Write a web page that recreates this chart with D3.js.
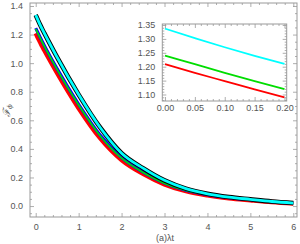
<!DOCTYPE html>
<html>
<head>
<meta charset="utf-8">
<script src="https://cdn.jsdelivr.net/npm/d3@7"></script>
<style>
  body { margin: 0; background: #fff; }
  svg { display: block; }
  .tick text { font-family: "Liberation Sans", Arial, sans-serif; font-size: 9px; fill: #555; }
  .domain { stroke: none; }
  .tick line { stroke: #999; stroke-width: 0.8; }
</style>
</head>
<body>
<div id="wrapper"></div>
<script>
// time values (λt)
const times = [0, 0.05, 0.1, 0.15, 0.2, 0.5, 1, 1.5, 2, 2.5, 3, 3.5, 4, 4.5, 5, 5.5, 6]

// series
const cyanValues  = [1.337, 1.303, 1.270, 1.239, 1.210, 1.04, 0.78, 0.55, 0.37, 0.265, 0.18, 0.122, 0.086, 0.063, 0.047, 0.032, 0.021]
const blueValues  = [1.245, 1.214, 1.183, 1.153, 1.124, 0.96, 0.712, 0.497, 0.34, 0.238, 0.162, 0.111, 0.080, 0.059, 0.044, 0.030, 0.020]
const greenValues = [1.240, 1.209, 1.178, 1.148, 1.119, 0.955, 0.707, 0.492, 0.335, 0.235, 0.159, 0.109, 0.079, 0.058, 0.043, 0.029, 0.019]
const redValues   = [1.209, 1.178, 1.148, 1.118, 1.090, 0.93, 0.685, 0.475, 0.322, 0.225, 0.152, 0.104, 0.075, 0.055, 0.041, 0.028, 0.018]

const mainXTicks = [0, 1, 2, 3, 4, 5, 6]
const mainYTicks = [0, 0.2, 0.4, 0.6, 0.8, 1.0, 1.2, 1.4]
const insetXTicks = [0, 0.05, 0.1, 0.15, 0.2]
const insetYTicks = [1.10, 1.15, 1.20, 1.25, 1.30, 1.35]

const xLabel = "(a)λt"

function drawChart() {
  const width = 300
  const height = 244

  const svg = d3.select("#wrapper")
    .append("svg")
      .attr("width", width)
      .attr("height", height)

  svg.append("rect").attr("width", width).attr("height", height).attr("fill", "#fff")

  // main frame box
  const frame = { left: 30, right: 297, top: 3, bottom: 217 }

  const xScale = d3.scaleLinear().domain([-0.133, 6.086]).range([frame.left, frame.right])
  const yScale = d3.scaleLinear().domain([-0.0766, 1.4209]).range([frame.bottom, frame.top])

  const mainLayers = [
    { values: redValues,   color: "#ff0000", width: 4.5 },
    { values: blueValues,  color: "#0000ff", width: 3.2 },
    { values: greenValues, color: "#00dd00", width: 1.8 },
    { values: cyanValues,  color: "#000000", width: 4.6 },
    { values: cyanValues,  color: "#00ffff", width: 2.8 },
  ]

  const drawFramedPlot = (g, xs, ys, opts) => {
    const [x0, x1] = xs.range()
    const [y0, y1] = ys.range()

    const lineGen = d3.line()
      .x((d, i) => xs(times[i]))
      .y(d => ys(d))
      .curve(d3.curveMonotoneX)
      .defined((d, i) => times[i] <= opts.xMax)

    const clipId = "clip" + Math.round(x0)
    g.append("clipPath").attr("id", clipId)
      .append("rect").attr("x", x0).attr("y", y1).attr("width", x1 - x0).attr("height", y0 - y1)

    const lines = g.append("g").attr("clip-path", `url(#${clipId})`)
    opts.layers.forEach(l => {
      lines.append("path")
        .datum(l.values)
        .attr("d", lineGen)
        .attr("fill", "none")
        .attr("stroke", l.color)
        .attr("stroke-width", l.width)
        .attr("stroke-linejoin", "round")
    })

    const xd = xs.domain(), yd = ys.domain()
    const xMinor = d3.range(Math.ceil(xd[0] / opts.xMinorStep) * opts.xMinorStep, xd[1], opts.xMinorStep)
      .filter(v => !opts.xTicks.some(t => Math.abs(t - v) < 1e-6))
    const yMinor = d3.range(Math.ceil(yd[0] / opts.yMinorStep) * opts.yMinorStep, yd[1], opts.yMinorStep)
      .filter(v => !opts.yTicks.some(t => Math.abs(t - v) < 1e-6))

    // bottom
    g.append("g").attr("transform", `translate(0,${y0})`)
      .call(d3.axisBottom(xs).tickValues(opts.xTicks).tickSize(-4).tickPadding(opts.xPad).tickFormat(opts.fmtX))
    g.append("g").attr("transform", `translate(0,${y0})`)
      .call(d3.axisBottom(xs).tickValues(xMinor).tickSize(-2).tickFormat(""))
    // top
    g.append("g").attr("transform", `translate(0,${y1})`)
      .call(d3.axisTop(xs).tickValues(opts.xTicks).tickSize(-4).tickFormat(""))
    g.append("g").attr("transform", `translate(0,${y1})`)
      .call(d3.axisTop(xs).tickValues(xMinor).tickSize(-2).tickFormat(""))
    // left
    g.append("g").attr("transform", `translate(${x0},0)`)
      .call(d3.axisLeft(ys).tickValues(opts.yTicks).tickSize(-4).tickPadding(7).tickFormat(opts.fmtY))
    g.append("g").attr("transform", `translate(${x0},0)`)
      .call(d3.axisLeft(ys).tickValues(yMinor).tickSize(-2).tickFormat(""))
    // right
    g.append("g").attr("transform", `translate(${x1},0)`)
      .call(d3.axisRight(ys).tickValues(opts.yTicks).tickSize(-4).tickFormat(""))
    g.append("g").attr("transform", `translate(${x1},0)`)
      .call(d3.axisRight(ys).tickValues(yMinor).tickSize(-2).tickFormat(""))

    g.append("rect")
      .attr("x", x0).attr("y", y1)
      .attr("width", x1 - x0).attr("height", y0 - y1)
      .attr("fill", "none")
      .attr("stroke", "#999")
      .attr("stroke-width", 1)
  }

  const main = svg.append("g")
  drawFramedPlot(main, xScale, yScale, {
    xTicks: mainXTicks, yTicks: mainYTicks, xMinorStep: 0.2, yMinorStep: 0.05,
    fmtX: d3.format("d"), fmtY: d3.format(".1f"), layers: mainLayers, xMax: 10, xPad: 7
  })

  // inset
  const inset = { left: 162.3, right: 286.7, top: 24, bottom: 101 }
  svg.append("rect")
    .attr("x", inset.left - 30).attr("y", inset.top - 6)
    .attr("width", inset.right - inset.left + 36).attr("height", inset.bottom - inset.top + 18)
    .attr("fill", "#fff")

  const ixScale = d3.scaleLinear().domain([-0.0045, 0.2037]).range([inset.left, inset.right])
  const iyScale = d3.scaleLinear().domain([1.0766, 1.3536]).range([inset.bottom, inset.top])

  const insetLayers = [
    { values: cyanValues,  color: "#00ffff", width: 1.8 },
    { values: greenValues, color: "#00dd00", width: 1.8 },
    { values: redValues,   color: "#ff0000", width: 1.8 },
  ]

  const insetG = svg.append("g")
  drawFramedPlot(insetG, ixScale, iyScale, {
    xTicks: insetXTicks, yTicks: insetYTicks, xMinorStep: 0.01, yMinorStep: 0.01,
    fmtX: d3.format(".2f"), fmtY: d3.format(".2f"), layers: insetLayers, xMax: 0.2, xPad: 4
  })

  // axis labels
  svg.append("text")
    .attr("x", 165).attr("y", 241)
    .attr("text-anchor", "middle")
    .attr("font-family", "Liberation Sans, Arial, sans-serif")
    .attr("font-size", 9)
    .attr("fill", "#555")
    .text(xLabel)

  const yl = svg.append("text")
    .attr("transform", "translate(10,117) rotate(-90)")
    .attr("text-anchor", "start")
    .attr("font-family", "DejaVu Serif, serif")
    .attr("font-style", "italic")
    .attr("font-size", 10)
    .attr("fill", "#555")
  yl.append("tspan").text("ℱ")
  yl.append("tspan").attr("font-size", 7).attr("dy", 2).text("ϕ")
}
drawChart()
</script>
</body>
</html>
